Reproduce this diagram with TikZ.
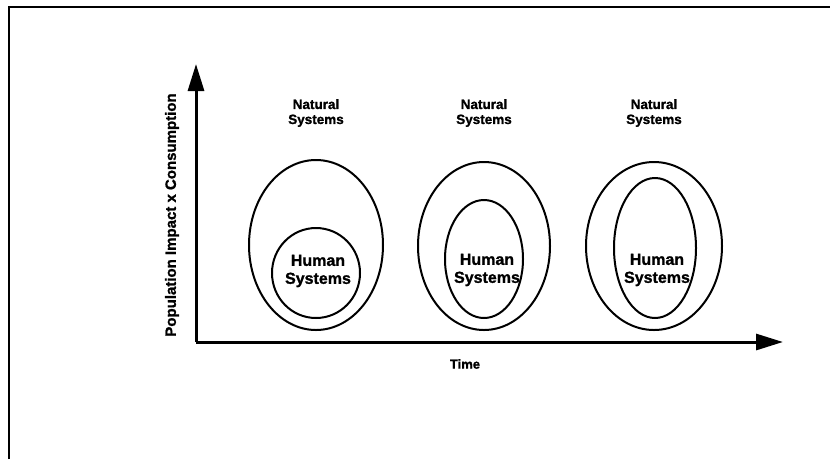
\documentclass[tikz,border=0pt]{standalone}
\usepackage{fontspec}
\setmainfont{Liberation Sans}[BoldFeatures={FakeBold=1.2}]
\usetikzlibrary{arrows.meta,shapes.geometric}
\begin{document}
\begin{tikzpicture}[x=1pt,y=-1pt,
  lbl/.style={font=\bfseries\fontsize{13.5}{15}\selectfont, align=center, inner sep=0pt},
  humanlbl/.style={lbl, font=\bfseries\fontsize{16}{18}\selectfont},
  outerloop/.style={draw, ellipse, line width=2pt, inner sep=0pt},
  innerloop/.style={draw, ellipse, line width=2pt, inner sep=0pt},
  axis/.style={line width=3pt, -{Triangle[length=27pt,width=16pt]}}]
\useasboundingbox (0,0) rectangle (830,459);
% frame along the top and left edges
\draw[line width=2pt] (9,459) -- (9,7) -- (830,7);

% axes
\coordinate (origin) at (196,342);
\coordinate (ytip) at (196,64);
\coordinate (xtip) at (783,342);
\draw[axis] (origin) -- (ytip);
\draw[axis] (origin) -- (xtip);
\node[lbl, font=\bfseries\fontsize{15}{16}\selectfont, rotate=90] (ylab) at (172,215) {Population Impact x Consumption};
\node[lbl, font=\bfseries\fontsize{13}{14}\selectfont] (xlab) at (465,364) {Time};

% first stage
\node[outerloop, minimum width=134pt, minimum height=170pt] (n1) at (316,245) {};
\node[innerloop, minimum width=88pt, minimum height=90pt] (h1) at (316,273) {};
\node[lbl] (nt1) at (316,113) {Natural\\Systems};
\node[humanlbl] (ht1) at (318,271) {Human\\Systems};

% second stage
\node[outerloop, minimum width=132pt, minimum height=168pt] (n2) at (484,246) {};
\node[innerloop, minimum width=78pt, minimum height=118pt] (h2) at (484,259) {};
\node[lbl] (nt2) at (484,113) {Natural\\Systems};
\node[humanlbl] (ht2) at (487,270) {Human\\Systems};

% third stage
\node[outerloop, minimum width=136pt, minimum height=168pt] (n3) at (654,246) {};
\node[innerloop, minimum width=82pt, minimum height=140pt] (h3) at (655,248) {};
\node[lbl] (nt3) at (654,113) {Natural\\Systems};
\node[humanlbl] (ht3) at (657,270) {Human\\Systems};
\end{tikzpicture}
\end{document}
